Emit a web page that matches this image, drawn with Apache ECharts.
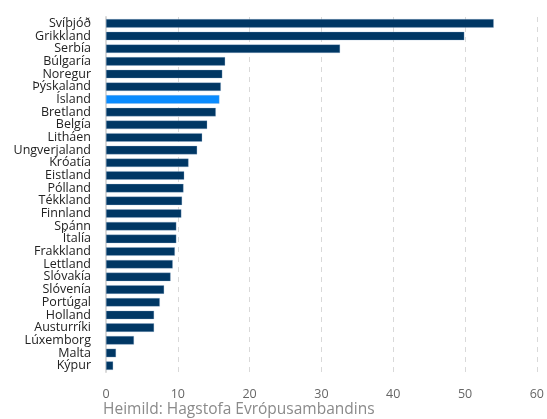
<!DOCTYPE html>
<html>
<head>
<meta charset="utf-8">
<script src="https://cdn.jsdelivr.net/npm/echarts@6/dist/echarts.min.js"></script>
<style>
html,body{margin:0;padding:0;background:#fff;}
#main{width:547px;height:419px;}
</style>
</head>
<body>
<div id="main"></div>
<script>
var countries = ['Svíþjóð','Grikkland','Serbía','Búlgaría','Noregur','Þýskaland','Ísland','Bretland','Belgía','Litháen','Ungverjaland','Króatía','Eistland','Pólland','Tékkland','Finnland','Spánn','Ítalía','Frakkland','Lettland','Slóvakía','Slóvenía','Portúgal','Holland','Austurríki','Lúxemborg','Malta','Kýpur'];
var values = [54.0,49.9,32.6,16.6,16.2,16.0,15.8,15.3,14.1,13.4,12.7,11.5,10.9,10.8,10.6,10.5,9.8,9.8,9.6,9.3,9.0,8.1,7.5,6.7,6.7,3.9,1.4,1.0];
var highlight = 'Ísland';
var xTicks = [0,10,20,30,40,50,60];

var chart = echarts.init(document.getElementById('main'));
var data = [];
for (var i = 0; i < countries.length; i++) {
	data.push({
		value: values[i],
		itemStyle: { color: countries[i] == highlight ? '#0a8cff' : '#003764' }
	});
}
var option = {
	animation: false,
	textStyle: { fontFamily: 'Open Sans' },
	grid: { left: 106, right: 7, top: 17, bottom: 47 },
	xAxis: {
		type: 'value',
		min: xTicks[0],
		max: xTicks[xTicks.length - 1],
		interval: 10,
		axisLine: { show: false },
		axisTick: { show: false },
		axisLabel: { color: '#666', fontSize: 12.5, margin: 16 },
		splitLine: { lineStyle: { color: '#d9d9d9', type: [5, 5], width: 1 } }
	},
	yAxis: {
		type: 'category',
		inverse: true,
		data: countries,
		axisLine: { lineStyle: { color: '#d9d9d9', width: 2 } },
		axisTick: { show: false },
		axisLabel: { color: '#222', fontSize: 12.5, margin: 15, interval: 0 }
	},
	series: [{
		type: 'bar',
		data: data,
		barCategoryGap: '32%',
		itemStyle: { borderColor: 'rgba(150,180,210,0.6)', borderWidth: 0.5 }
	}],
	graphic: [{
		type: 'text',
		left: 103,
		top: 402,
		style: { text: 'Heimild: Hagstofa Evrópusambandins', fill: '#8a8a8a', fontSize: 15.5, fontFamily: 'Open Sans' }
	}]
};
chart.setOption(option);
</script>
</body>
</html>
